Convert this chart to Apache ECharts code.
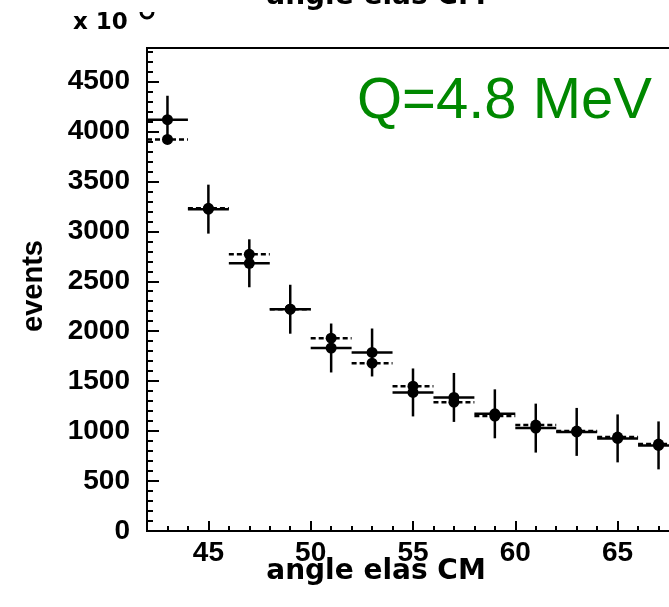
<!DOCTYPE html>
<html>
<head>
<meta charset="utf-8">
<script src="https://cdn.jsdelivr.net/npm/echarts@6/dist/echarts.min.js"></script>
<style>
  html, body { margin: 0; padding: 0; background: #fff; }
  #container { width: 669px; height: 607px; }
</style>
</head>
<body>
<div id="container"></div>
<script>
// bin centres (deg) and contents
const angles = [43, 45, 47, 49, 51, 53, 55, 57, 59, 61, 63, 65, 67];
const binHalfWidth = 1;
const eventsSolid = [4117, 3222, 2680, 2220, 1832, 1787, 1387, 1337, 1173, 1030, 992, 927, 857];
const errorsSolid = [240, 245, 240, 245, 245, 240, 240, 245, 245, 245, 240, 240, 240];
const eventsDashed = [3920, 3230, 2770, 2220, 1930, 1680, 1450, 1290, 1150, 1060, 1000, 940, 870];

const xRange = [42, 68];
const yRange = [0, 4835];

const LABEL_FONT = 'Liberation Sans';
const TITLE_FONT = 'DejaVu Sans';

let dom = document.getElementById('container');
let myChart = echarts.init(dom, null, { renderer: 'canvas' });

let solidData = angles.map((a, i) => [a, eventsSolid[i], errorsSolid[i]]);
let dashedData = angles.map((a, i) => [a, eventsDashed[i]]);

function renderSolid(params, api) {
    let x = api.value(0), y = api.value(1), e = api.value(2);
    let l = api.coord([x - binHalfWidth, y]);
    let r = api.coord([x + binHalfWidth, y]);
    let t = api.coord([x, y + e]);
    let b = api.coord([x, y - e]);
    let c = api.coord([x, y]);
    return {
        type: 'group',
        children: [
            { type: 'line', shape: { x1: l[0], y1: l[1], x2: r[0], y2: r[1] }, style: { stroke: '#000', lineWidth: 2.5 } },
            { type: 'line', shape: { x1: t[0], y1: t[1], x2: b[0], y2: b[1] }, style: { stroke: '#000', lineWidth: 2.5 } },
            { type: 'circle', shape: { cx: c[0], cy: c[1], r: 5.5 }, style: { fill: '#000' } }
        ]
    };
}

function renderDashed(params, api) {
    let x = api.value(0), y = api.value(1);
    let l = api.coord([x - binHalfWidth, y]);
    let r = api.coord([x + binHalfWidth, y]);
    let c = api.coord([x, y]);
    return {
        type: 'group',
        children: [
            { type: 'line', shape: { x1: l[0], y1: l[1], x2: r[0], y2: r[1] }, style: { stroke: '#000', lineWidth: 2.5, lineDash: [5, 3] } },
            { type: 'circle', shape: { cx: c[0], cy: c[1], r: 5.5 }, style: { fill: '#000' } }
        ]
    };
}

let tickLabel = {
    fontFamily: LABEL_FONT,
    fontWeight: 'bold',
    fontSize: 28,
    color: '#000'
};

let option = {
    animation: false,
    backgroundColor: '#fff',
    grid: {
        left: 147,
        right: -10,
        top: 48,
        bottom: 76,
        show: true,
        borderColor: '#000',
        borderWidth: 2,
        outerBoundsMode: 'none'
    },
    xAxis: [
        {
            type: 'value',
            min: xRange[0],
            max: xRange[1],
            splitNumber: 5,
            position: 'bottom',
            axisLine: { lineStyle: { color: '#000', width: 2 } },
            axisTick: { inside: true, length: 10, lineStyle: { color: '#000', width: 2 } },
            axisLabel: Object.assign({ margin: 8, formatter: v => (v % 5 === 0 ? String(v) : '') }, tickLabel),
            splitLine: { show: false }
        },
        {
            type: 'value',
            min: xRange[0],
            max: xRange[1],
            interval: 1,
            position: 'bottom',
            axisLine: { show: false },
            axisTick: { inside: true, length: 5, lineStyle: { color: '#000', width: 2 } },
            axisLabel: { show: false },
            splitLine: { show: false }
        }
    ],
    yAxis: [
        {
            type: 'value',
            min: yRange[0],
            max: yRange[1],
            interval: 500,
            position: 'left',
            axisLine: { lineStyle: { color: '#000', width: 2 } },
            axisTick: { inside: true, length: 12, lineStyle: { color: '#000', width: 2 } },
            axisLabel: Object.assign({ margin: 17, formatter: v => (v % 500 === 0 ? String(v) : '') }, tickLabel),
            splitLine: { show: false }
        },
        {
            type: 'value',
            min: yRange[0],
            max: yRange[1],
            interval: 100,
            position: 'left',
            axisLine: { show: false },
            axisTick: { inside: true, length: 6, lineStyle: { color: '#000', width: 2 } },
            axisLabel: { show: false },
            splitLine: { show: false }
        }
    ],
    series: [
        {
            type: 'custom',
            name: 'dashed',
            xAxisIndex: 0,
            yAxisIndex: 0,
            clip: true,
            renderItem: renderDashed,
            data: dashedData
        },
        {
            type: 'custom',
            name: 'solid',
            xAxisIndex: 0,
            yAxisIndex: 0,
            clip: true,
            renderItem: renderSolid,
            data: solidData
        }
    ],
    graphic: [
        {
            type: 'text', x: 357, y: 102,
            style: { text: 'Q=4.8 MeV', font: '58px "Liberation Sans"', fill: '#008800', align: 'left', verticalAlign: 'middle' }
        },
        {
            type: 'text', x: 34, y: 286, rotation: Math.PI / 2,
            style: { text: 'events', font: 'bold 29px "Liberation Sans"', fill: '#000', align: 'center', verticalAlign: 'middle' }
        },
        {
            type: 'text', x: 376, y: 572,
            style: { text: 'angle elas CM', font: 'bold 28px "DejaVu Sans"', fill: '#000', align: 'center', verticalAlign: 'middle' }
        },
        {
            type: 'text', x: 376, y: -3,
            style: { text: 'angle elas CM', font: 'bold 28px "DejaVu Sans"', fill: '#000', align: 'center', verticalAlign: 'middle' }
        },
        {
            type: 'text', x: 73, y: 23,
            style: { text: 'x 10', font: 'bold 23px "DejaVu Sans"', fill: '#000', align: 'left', verticalAlign: 'middle' }
        },
        {
            type: 'arc',
            shape: { cx: 147, cy: 12, r: 6, startAngle: 0, endAngle: Math.PI },
            style: { stroke: '#000', lineWidth: 3, fill: null }
        }
    ]
};

myChart.setOption(option);
</script>
</body>
</html>
